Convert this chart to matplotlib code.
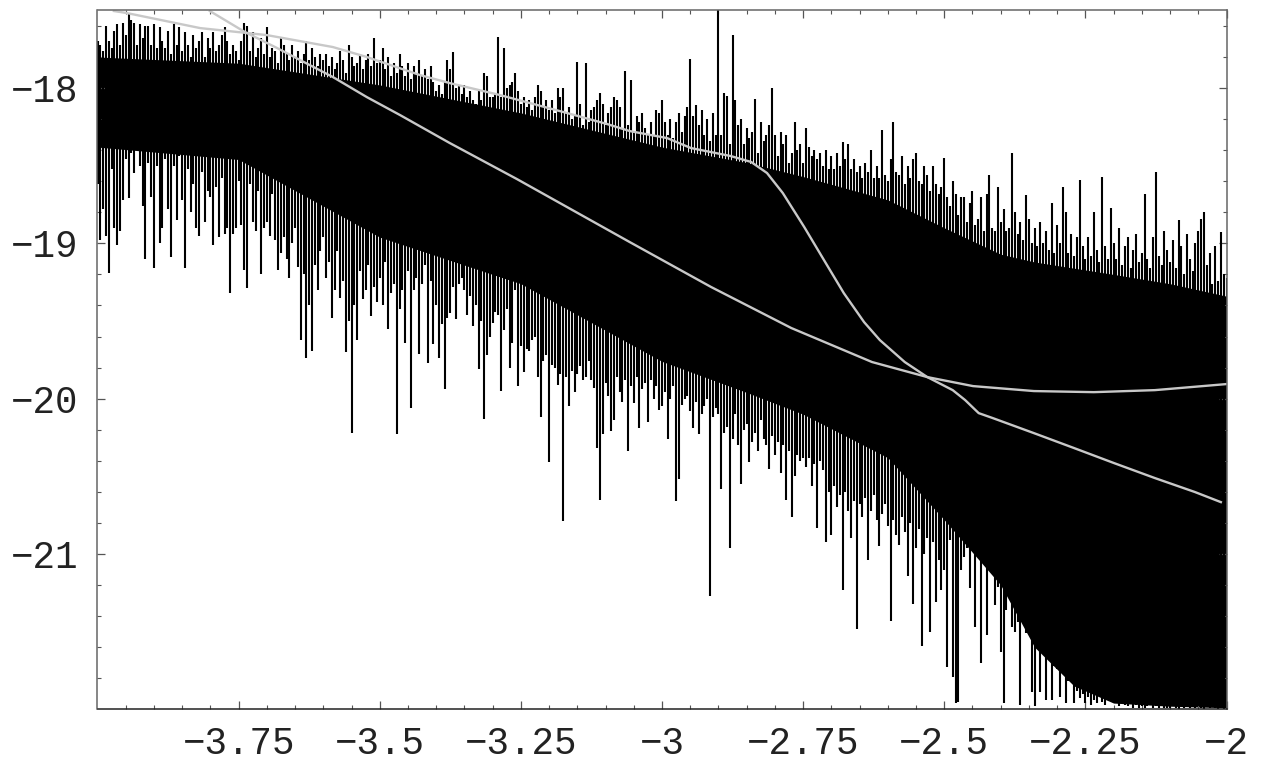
import numpy as np
import matplotlib
matplotlib.use('Agg')
import matplotlib.pyplot as plt

# spike tips, one row per 0.1 in x, 0.005 apart
comb_top = [
    -17.70,-17.72,-17.76,-17.60,-17.70,-17.74,-17.63,-17.59,-17.72,-17.58,-17.66,-17.52,-17.56,-17.58,-17.72,-17.59,-17.68,-17.60,-17.60,-17.72,
    -17.59,-17.74,-17.61,-17.70,-17.74,-17.63,-17.78,-17.59,-17.72,-17.61,-17.76,-17.64,-17.72,-17.80,-17.66,-17.74,-17.70,-17.64,-17.80,-17.68,
    -17.74,-17.64,-17.76,-17.72,-17.66,-17.61,-17.70,-17.78,-17.72,-17.76,-17.82,-17.70,-17.58,-17.60,-17.76,-17.64,-17.80,-17.74,-17.68,-17.78,
    -17.61,-17.80,-17.74,-17.76,-17.84,-17.67,-17.72,-17.78,-17.82,-17.72,-17.80,-17.76,-17.84,-17.78,-17.70,-17.82,-17.74,-17.80,-17.86,-17.78,
    -17.82,-17.78,-17.86,-17.80,-17.88,-17.84,-17.76,-17.82,-17.90,-17.72,-17.80,-17.86,-17.84,-17.78,-17.88,-17.82,-17.78,-17.86,-17.68,-17.84,
    -17.82,-17.74,-17.88,-17.80,-17.92,-17.84,-17.90,-17.78,-17.86,-17.92,-17.84,-17.94,-17.86,-17.90,-17.82,-17.92,-17.88,-17.94,-17.86,-17.96,
    -18.02,-17.98,-18.04,-17.96,-17.82,-17.88,-17.77,-18.00,-17.98,-18.04,-17.98,-18.06,-18.02,-18.08,-18.10,-18.02,-18.08,-17.90,-17.92,-18.06,
    -18.06,-18.04,-17.67,-18.06,-17.74,-18.00,-17.98,-17.96,-17.90,-18.02,-18.10,-18.06,-18.12,-18.08,-18.14,-18.06,-17.98,-18.02,-18.12,-18.08,
    -18.14,-18.08,-18.16,-18.00,-18.06,-18.00,-18.16,-18.12,-18.20,-18.18,-17.83,-18.10,-18.24,-17.84,-18.22,-18.14,-18.12,-18.08,-18.03,-18.10,
    -18.24,-18.16,-18.12,-18.06,-18.08,-18.12,-18.26,-17.89,-18.24,-17.95,-18.28,-18.18,-18.22,-18.16,-18.26,-18.30,-18.22,-18.30,-18.14,-18.16,
    -18.08,-18.22,-18.30,-18.20,-18.32,-18.22,-18.16,-18.28,-18.18,-18.12,-17.81,-18.18,-18.11,-18.24,-18.14,-18.30,-18.20,-18.34,-18.16,-18.30,
    -17.40,-18.30,-18.03,-18.05,-18.36,-17.66,-18.08,-18.24,-18.20,-18.36,-18.26,-18.32,-18.28,-18.07,-18.42,-18.22,-18.34,-18.30,-18.24,-18.00,
    -18.30,-18.44,-18.28,-18.36,-18.30,-18.48,-18.42,-18.22,-18.40,-18.36,-18.48,-18.26,-18.38,-18.44,-18.40,-18.46,-18.42,-18.50,-18.40,-18.52,
    -18.44,-18.52,-18.42,-18.50,-18.35,-18.46,-18.36,-18.52,-18.46,-18.54,-18.50,-18.58,-18.48,-18.54,-18.40,-18.58,-18.50,-18.58,-18.27,-18.56,
    -18.60,-18.46,-18.22,-18.54,-18.56,-18.44,-18.62,-18.50,-18.58,-18.46,-18.42,-18.60,-18.62,-18.50,-18.56,-18.66,-18.50,-18.62,-18.68,-18.64,
    -18.45,-18.70,-18.76,-18.60,-18.68,-18.82,-18.70,-18.70,-18.86,-18.74,-18.66,-18.88,-18.84,-18.70,-18.92,-18.68,-18.56,-18.90,-18.92,-18.64,
    -18.86,-18.78,-18.92,-18.90,-18.42,-18.80,-18.94,-18.86,-18.98,-18.69,-18.84,-19.00,-18.90,-19.02,-18.86,-19.00,-18.92,-19.04,-18.74,-19.06,
    -18.88,-19.00,-18.64,-18.80,-19.06,-18.94,-19.08,-18.96,-18.59,-19.02,-19.10,-18.96,-19.08,-18.80,-19.04,-19.12,-18.57,-19.02,-19.10,-18.77,
    -19.00,-19.10,-18.90,-19.14,-19.02,-18.96,-19.16,-19.04,-18.94,-19.12,-19.06,-18.68,-19.10,-19.16,-18.96,-18.54,-19.08,-19.14,-18.92,-19.04,
    -19.12,-18.98,-19.16,-18.85,-19.02,-19.20,-18.94,-19.10,-19.18,-19.00,-18.92,-18.84,-18.80,-19.14,-19.06,-19.26,-19.02,-19.24,-18.93,-19.20,
    -19.22]
comb_bottom = [
    -18.62,-18.98,-18.78,-18.95,-19.19,-18.52,-18.90,-19.01,-18.92,-18.72,-18.46,-18.71,-18.42,-18.55,-18.40,-18.50,-18.76,-19.10,-18.48,-18.70,
    -19.16,-18.50,-19.00,-18.90,-18.46,-18.78,-19.09,-18.50,-18.85,-18.44,-18.72,-19.16,-18.52,-18.80,-18.62,-18.90,-18.95,-18.54,-18.86,-18.66,
    -18.70,-19.01,-18.64,-18.96,-18.58,-18.94,-18.90,-19.32,-18.94,-18.90,-18.60,-18.88,-19.17,-19.29,-18.62,-18.86,-18.92,-18.66,-19.20,-18.90,
    -18.86,-18.95,-18.68,-18.98,-19.17,-19.06,-18.96,-19.10,-19.22,-19.00,-18.90,-19.15,-19.62,-19.20,-19.74,-19.40,-19.69,-19.14,-19.30,-19.05,
    -18.96,-19.22,-19.12,-19.48,-19.30,-19.05,-19.35,-19.24,-19.70,-19.50,-20.22,-19.40,-19.62,-19.18,-19.36,-19.30,-19.14,-19.47,-19.28,-19.38,
    -19.22,-19.40,-19.12,-19.55,-19.32,-19.26,-20.23,-19.42,-19.30,-19.64,-19.18,-20.06,-19.30,-19.22,-19.71,-19.26,-19.14,-19.77,-19.24,-19.65,
    -19.40,-19.74,-19.52,-19.94,-19.48,-19.45,-19.28,-19.49,-19.26,-19.22,-19.30,-19.46,-19.34,-19.53,-19.40,-19.81,-19.50,-20.13,-19.72,-19.60,
    -19.51,-19.44,-19.46,-19.95,-19.56,-19.42,-19.80,-19.64,-19.30,-19.92,-19.66,-19.83,-19.68,-19.69,-19.62,-19.60,-19.86,-20.12,-19.76,-19.72,
    -20.41,-19.78,-19.80,-19.91,-19.84,-20.79,-19.86,-20.05,-19.82,-19.96,-19.84,-19.79,-19.88,-19.86,-19.76,-19.88,-19.93,-20.32,-20.65,-20.23,
    -19.90,-19.98,-20.21,-20.14,-19.86,-19.96,-20.02,-19.88,-20.34,-19.92,-20.03,-19.86,-20.19,-19.94,-19.90,-20.15,-19.88,-20.00,-19.92,-20.07,
    -20.05,-19.96,-20.26,-20.00,-19.92,-20.66,-20.52,-20.04,-20.00,-19.98,-20.08,-20.19,-20.02,-20.23,-20.10,-20.05,-20.00,-21.27,-20.12,-20.06,
    -20.10,-20.58,-20.22,-20.18,-20.96,-20.26,-20.10,-20.30,-20.55,-20.20,-20.16,-20.41,-20.28,-20.22,-20.34,-20.14,-20.26,-20.30,-20.45,-20.24,
    -20.36,-20.28,-20.48,-20.30,-20.65,-20.34,-20.76,-20.50,-20.36,-20.40,-20.38,-20.44,-20.38,-20.56,-20.42,-20.83,-20.40,-20.46,-20.92,-20.60,
    -20.88,-20.56,-20.70,-20.62,-21.23,-20.60,-20.72,-20.90,-20.66,-21.48,-20.68,-20.76,-20.64,-21.04,-20.72,-20.62,-20.78,-20.95,-20.74,-20.68,
    -20.82,-21.43,-20.78,-20.88,-20.94,-20.76,-20.86,-21.14,-20.80,-21.32,-20.96,-20.84,-21.59,-21.00,-20.90,-21.50,-20.92,-21.31,-21.04,-21.23,
    -21.10,-21.73,-20.91,-21.79,-21.96,-21.95,-21.10,-21.02,-20.96,-21.22,-20.87,-21.47,-20.87,-21.70,-20.98,-21.52,-20.95,-21.07,-21.33,-21.21,
    -21.63,-21.96,-21.36,-21.28,-21.47,-21.50,-21.44,-21.97,-21.34,-21.51,-21.46,-21.89,-21.98,-21.52,-21.89,-21.26,-21.94,-21.57,-21.94,-21.72,
    -21.74,-21.92,-21.61,-21.96,-21.82,-21.66,-21.96,-21.88,-21.93,-21.90,-21.96,-21.92,-21.97,-21.94,-21.96,-21.84,-21.95,-21.97,-21.92,-21.79,
    -21.96,-21.94,-21.98,-21.95,-21.97,-21.98,-21.96,-21.99,-21.97,-21.99,-21.98,-21.99,-21.98,-21.96,-21.99,-21.98,-21.99,-21.97,-21.99,-21.99,
    -21.99,-21.98,-21.99,-22.00,-21.97,-21.99,-21.98,-21.99,-21.97,-21.99,-21.98,-21.99,-22.00,-21.98,-21.99,-21.98,-21.99,-22.00,-21.99,-22.00,
    -22.00]

# solid part of the noise band
band_x = [-4, -3.75, -3.5, -3.25, -3, -2.85, -2.75, -2.6, -2.5, -2.4, -2.34, -2.27, -2.2, -2.1, -2]
band_top = [-17.80, -17.84, -17.98, -18.16, -18.38, -18.48, -18.57, -18.72, -18.90, -19.07, -19.12, -19.16, -19.20, -19.26, -19.34]
band_bottom = [-18.38, -18.46, -18.96, -19.26, -19.76, -19.96, -20.10, -20.38, -20.78, -21.20, -21.60, -21.85, -21.96, -21.98, -21.99]

# the two grey curves
curve_a_x = [-3.971, -3.948, -3.818, -3.700, -3.583, -3.523, -3.429, -3.376, -3.287, -3.168, -3.097, -3.057,
             -2.991, -2.949, -2.878, -2.842, -2.814, -2.786, -2.748, -2.713, -2.678, -2.642, -2.614, -2.570,
             -2.530, -2.485, -2.463, -2.439, -2.414, -2.341, -2.270, -2.199, -2.127, -2.056, -2.010]
curve_a_y = [-17.504, -17.517, -17.614, -17.659, -17.736, -17.800, -17.916, -17.968, -18.045, -18.161, -18.232, -18.277,
             -18.322, -18.386, -18.438, -18.476, -18.547, -18.676, -18.895, -19.108, -19.320, -19.507, -19.623, -19.764,
             -19.861, -19.945, -20.009, -20.093, -20.125, -20.222, -20.318, -20.415, -20.511, -20.601, -20.666]
curve_b_x = [-3.801, -3.739, -3.682, -3.641, -3.583, -3.523, -3.464, -3.376, -3.257, -3.057, -2.913, -2.771,
             -2.628, -2.530, -2.449, -2.341, -2.235, -2.127, -2.000]
curve_b_y = [-17.504, -17.639, -17.742, -17.820, -17.929, -18.058, -18.174, -18.354, -18.586, -18.992, -19.281, -19.545,
             -19.764, -19.861, -19.919, -19.951, -19.958, -19.945, -19.906]

x_major = [-3.75, -3.5, -3.25, -3, -2.75, -2.5, -2.25, -2]
x_labels = ['\u22123.75', '\u22123.5', '\u22123.25', '\u22123', '\u22122.75', '\u22122.5', '\u22122.25', '\u22122']
y_major = [-21, -20, -19, -18]
y_labels = ['\u221221', '\u221220', '\u221219', '\u221218']

W, H = 1263, 766
fig = plt.figure(figsize=(W / 100, H / 100), dpi=100)
ax = fig.add_axes([97.5 / W, 1 - 709.3 / H, (1226.5 - 97.5) / W, (709.3 - 10.4) / H])

comb_x = np.linspace(-4, -2, len(comb_top))
ax.vlines(comb_x, comb_bottom, comb_top, color='black', lw=1.5)
ax.fill_between(band_x, band_bottom, band_top, color='black', lw=0)
ax.plot(curve_a_x, curve_a_y, color='#c8c8c8', lw=1.7)
ax.plot(curve_b_x, curve_b_y, color='#c8c8c8', lw=1.7)

ax.set_xlim(-4, -2)
ax.set_ylim(-22, -17.5)
ax.set_xticks(x_major)
ax.set_xticklabels(x_labels, family='Liberation Mono', fontsize=27, color='#222222')
ax.set_yticks(y_major)
ax.set_yticklabels(y_labels, family='Liberation Mono', fontsize=27, color='#222222')
ax.set_xticks(np.arange(-3.95, -2.01, 0.05), minor=True)
ax.set_yticks(np.arange(-21.8, -17.55, 0.2), minor=True)
ax.tick_params(which='major', direction='in', top=True, right=True, length=6, width=0.9, color='#555555')
ax.tick_params(which='minor', direction='in', top=True, right=True, length=3.2, width=0.8, color='#555555')
ax.tick_params(axis='x', pad=12)
ax.tick_params(axis='y', pad=14)
for side in ax.spines:
    ax.spines[side].set_color('#666666')
    ax.spines[side].set_linewidth(1.1)
ax.spines['bottom'].set_color('#222222')

fig.savefig('out.png', dpi=100)
